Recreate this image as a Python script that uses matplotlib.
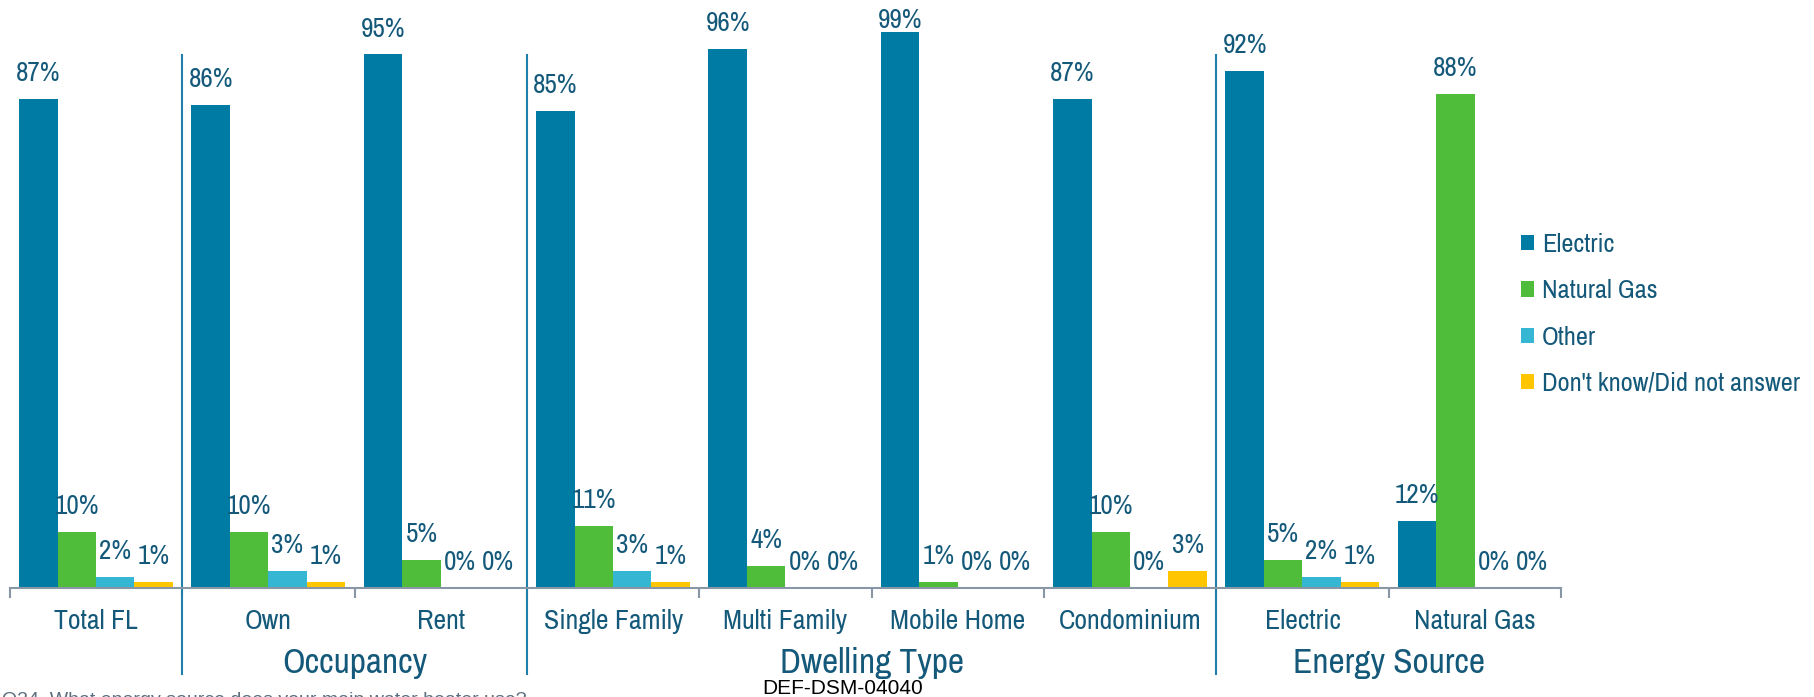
import numpy as np
import matplotlib.pyplot as plt
from matplotlib import font_manager

categories = ["Total FL", "Own", "Rent", "Single Family", "Multi Family",
              "Mobile Home", "Condominium", "Electric", "Natural Gas"]
groups = ["Occupancy", "Dwelling Type", "Energy Source"]
group_centers = [2, 5, 8]
separators = [1, 3, 7]

series_names = ["Electric", "Natural Gas", "Other", "Don't know/Did not answer"]
electric = [87, 86, 95, 85, 96, 99, 87, 92, 12]
natural_gas = [10, 10, 5, 11, 4, 1, 10, 5, 88]
other = [2, 3, 0, 3, 0, 0, 0, 2, 0]
dont_know = [1, 1, 0, 1, 0, 0, 3, 1, 0]

colors = ['#007ba4', '#50bd3a', '#35b6d3', '#ffc600']
text_color = '#14597a'

# Arial Narrow look-alike, whichever is installed
installed = {f.name for f in font_manager.fontManager.ttflist}
narrow = [n for n in ['Liberation Sans Narrow', 'Arial Narrow', 'Archivo Narrow',
                      'Roboto Condensed', 'PT Sans Narrow', 'Fira Sans Condensed']
          if n in installed][:1]
plt.rcParams['font.family'] = narrow + ['DejaVu Sans']


def main():
    fig = plt.figure(figsize=(18.15, 6.97), dpi=100)
    ax = fig.add_axes([10 / 1815, 1 - 588 / 697, 1551 / 1815, 588 / 697])

    x = np.arange(len(categories))
    width = 0.223
    start = 0.053
    handles = []
    for i, vals in enumerate([electric, natural_gas, other, dont_know]):
        pos = x + start + width * (i + 0.5)
        bars = ax.bar(pos, vals, width, color=colors[i], label=series_names[i])
        handles.append(bars)
        for px, v in zip(pos, vals):
            # labels sit just above the bar, kept inside the plot area
            ax.text(px, min(v + 3.2, 99.8), "{}%".format(v), ha='center',
                    va='baseline', fontsize=19.5, color=text_color)

    ax.set_xlim(0, len(categories))
    ax.set_ylim(0, 104.7)
    for s in ['top', 'right', 'left']:
        ax.spines[s].set_visible(False)
    ax.spines['bottom'].set_color('#8896a5')
    ax.spines['bottom'].set_linewidth(1.5)
    ax.set_yticks([])

    ax.set_xticks(x + 0.5)
    ax.set_xticklabels(categories, fontsize=20, color=text_color)
    ax.tick_params(axis='x', which='major', length=0, pad=15)
    ax.set_xticks(np.arange(len(categories) + 1), minor=True)
    ax.tick_params(axis='x', which='minor', length=7, width=1.5, color='#8896a5')

    for sx in separators:
        ax.plot([sx, sx], [-15.3, 94.9], color='#1f7fa8', lw=1.5, clip_on=False)

    for g, gx in zip(groups, group_centers):
        ax.text(gx, -13.4, g, ha='center', va='center', fontsize=25.5,
                color=text_color)

    fig.legend(handles=handles, loc='center left',
               bbox_to_anchor=(1521 / 1815, 1 - 314 / 697), frameon=False,
               borderpad=0, borderaxespad=0,
               fontsize=19, handlelength=0.5, handleheight=0.5,
               handletextpad=0.3, labelspacing=0.88, labelcolor=text_color)

    fig.text(843 / 1815, 1 - 688 / 697, "DEF-DSM-04040", ha='center',
             va='center', fontsize=15, color='black',
             family=['Liberation Sans', 'DejaVu Sans'])
    fig.text(2 / 1815, 1 - 692 / 697,
             "Q34. What energy source does your main water heater use?",
             ha='left', va='top', fontsize=14, color='#5a6f80',
             family=['Liberation Sans', 'DejaVu Sans'])

    fig.savefig('out.png', dpi=100)


if __name__ == "__main__":
    main()
